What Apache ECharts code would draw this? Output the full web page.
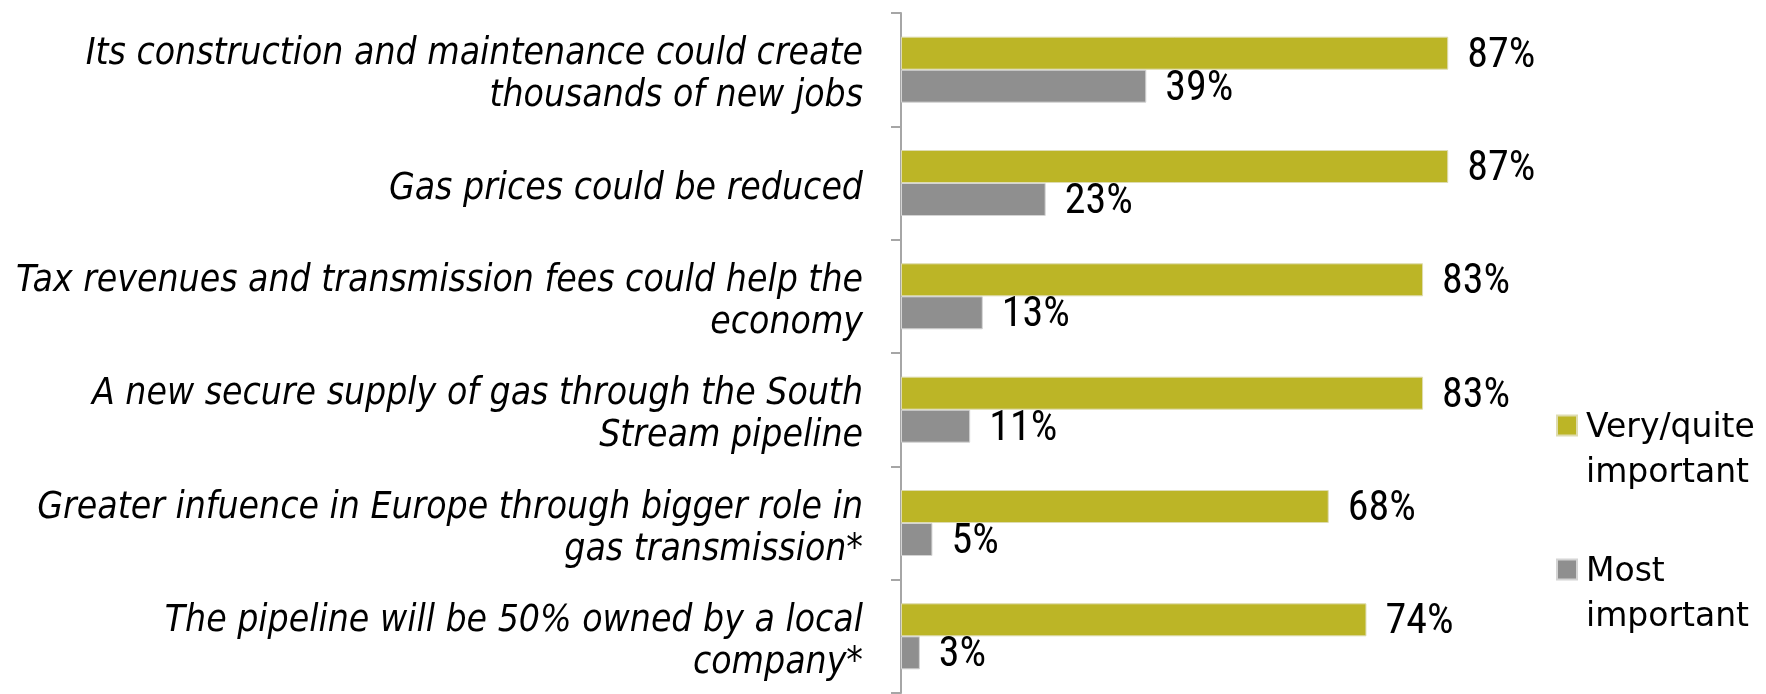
<!DOCTYPE html>
<html>
<head>
<meta charset="utf-8">
<script src="https://cdn.jsdelivr.net/npm/echarts@6/dist/echarts.min.js"></script>
<style>
  html, body { margin: 0; padding: 0; background: #fff; }
  #main { width: 1766px; height: 694px; }
</style>
</head>
<body>
<div id="main"></div>
<script>
// categories, top to bottom
const categories = [
  "Its construction and maintenance could create\nthousands of new jobs",
  "Gas prices could be reduced",
  "Tax revenues and transmission fees could help the\neconomy",
  "A new secure supply of gas through the South\nStream pipeline",
  "Greater infuence in Europe through bigger role in\ngas transmission*",
  "The pipeline will be 50% owned by a local\ncompany*"
];
const seriesNames = ["Very/quite\nimportant", "Most\nimportant"];
const veryQuite = [87, 87, 83, 83, 68, 74];
const mostImportant = [39, 23, 13, 11, 5, 3];

const chart = echarts.init(document.getElementById("main"));

const valueLabel = {
  show: true,
  position: "right",
  distance: 19,
  offset: [0, 3],
  formatter: "{c}%",
  color: "#000",
  fontSize: 42,
  fontFamily: "'Liberation Sans Narrow', 'Roboto Condensed', 'DejaVu Sans Condensed', sans-serif"
};

const option = {
  animation: false,
  grid: { left: 901, top: 13, width: 629, bottom: 1 },
  legend: {
    orient: "vertical",
    left: 1556,
    top: 355,
    padding: 0,
    itemGap: 3,
    itemWidth: 20,
    itemHeight: 20,
    icon: "rect",
    // empty first line so the marker sits beside the first text line
    formatter: name => "{s| }\n" + name,
    textStyle: {
      fontSize: 33,
      lineHeight: 45,
      fontFamily: "DejaVu Sans",
      color: "#000",
      padding: [0, 0, 0, 4],
      rich: {
        s: { fontSize: 2, lineHeight: 51 }
      }
    },
    data: seriesNames
  },
  xAxis: {
    type: "value",
    min: 0,
    max: 100,
    show: false
  },
  yAxis: {
    type: "category",
    inverse: true,
    data: categories,
    axisLine: { show: true, lineStyle: { color: "#a6a6a6", width: 2 } },
    axisTick: { show: true, length: 10, lineStyle: { color: "#a6a6a6", width: 2 } },
    axisLabel: {
      margin: 38,
      color: "#000",
      fontSize: 37,
      lineHeight: 42,
      fontStyle: "italic",
      fontFamily: "'DejaVu Sans Condensed', 'DejaVu Sans', sans-serif",
      align: "right",
      // a thin empty first line nudges the text a few pixels down
      formatter: v => "{s| }\n" + v,
      rich: {
        s: { fontSize: 2, lineHeight: 12 }
      }
    }
  },
  series: [
    {
      name: seriesNames[0],
      type: "bar",
      data: veryQuite,
      barWidth: 33,
      barGap: "0%",
      itemStyle: { color: "#bcb526", borderColor: "#dedcb0", borderWidth: 1 },
      label: valueLabel
    },
    {
      name: seriesNames[1],
      type: "bar",
      data: mostImportant,
      barWidth: 33,
      barGap: "0%",
      itemStyle: { color: "#8f8f8f", borderColor: "#d4d4d4", borderWidth: 1 },
      label: valueLabel
    }
  ]
};

chart.setOption(option);
</script>
</body>
</html>
